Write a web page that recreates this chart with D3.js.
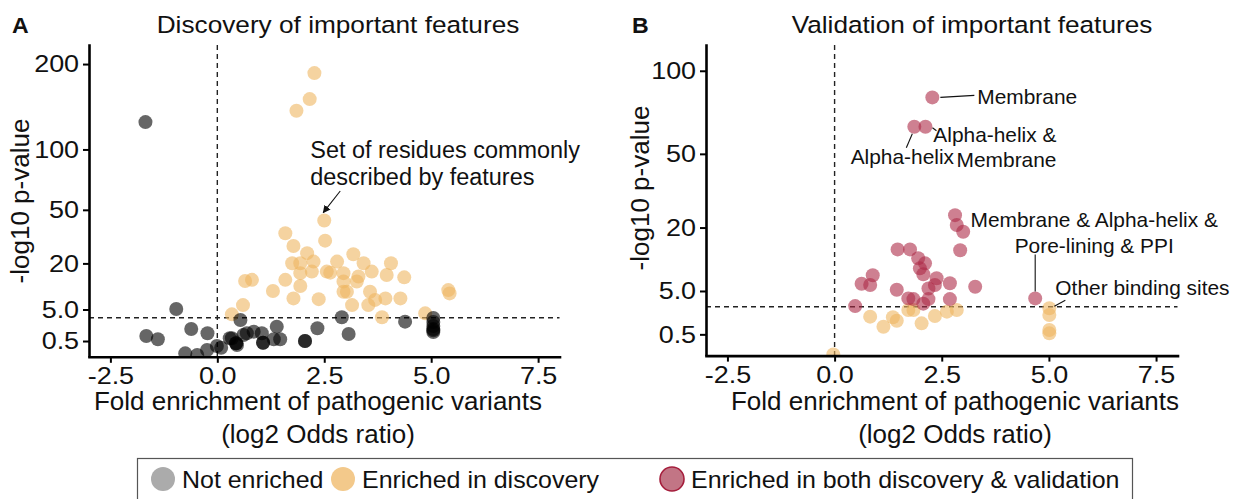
<!DOCTYPE html>
<html>
<head>
<meta charset="utf-8">
<script src="https://cdn.jsdelivr.net/npm/d3@7"></script>
<style>
  body { margin: 0; background: #fff; }
  svg { display: block; font-family: "Liberation Sans", Arial, sans-serif; }
</style>
</head>
<body>
<svg id="fig" width="1238" height="499"></svg>
<script>
// ---- data (x = log2 odds ratio, y = -log10 p) ----
const xTicks = [-2.5, 0, 2.5, 5, 7.5];
const yTicksDisc = [0.5, 5, 20, 50, 100, 200];
const yTicksVal = [0.5, 5, 20, 50, 100];
const thresholdDisc = 3.38;
const thresholdVal = 2.83;

const discEnriched = [
  [2.27,187.8],[2.16,154.8],[1.85,141],[2.50,42.9],[1.59,35.2],[1.78,28.3],[2.52,31.1],
  [2.10,24.7],[1.75,20.1],[1.94,20.1],[2.25,20.8],[2.21,16.6],[1.94,16.0],[2.56,16.6],
  [0.65,13.1],[0.81,13.5],[1.59,13.5],[1.94,11.4],[1.30,9.8],[1.78,7.7],[2.37,7.5],
  [0.60,6.0],[0.34,4.0],[3.18,24.2],[2.80,20.8],[3.42,20.1],[4.06,20.1],[2.64,16.2],
  [2.95,16.0],[3.30,14.7],[3.61,16.6],[3.96,15.3],[4.37,14.4],[3.26,12.9],[2.95,12.9],
  [2.95,9.6],[3.03,9.6],[3.57,9.6],[3.93,7.7],[4.28,7.7],[3.15,6.0],[3.53,6.0],
  [3.69,7.3],[5.40,10.1],[5.43,9.1],[3.85,3.46],[4.86,4.2]
];
const discNotEnriched = [
  [-1.68,128.3],[-0.96,5.1],[-1.66,0.91],[-1.39,0.63],[-0.61,1.67],[-0.23,1.17],
  [-0.75,0.012],[-0.47,0.001],[-0.24,0.074],[0.09,0.147],[0.29,0.71],[0.54,2.99],
  [0.44,0.36],[0.44,0.36],[0.69,1.17],[0.85,1.35],[1.04,1.17],[1.07,0.39],[1.07,0.39],
  [1.39,1.97],[1.47,0.63],[1.32,0.63],[2.05,0.50],[2.05,0.50],[2.34,1.76],[2.91,3.46],
  [3.07,1.10],[4.39,2.71],[5.05,3.33],[5.05,2.66],[5.05,2.07],[5.05,1.67],[5.05,1.31],
  [5.05,1.5],[0.34,0.71],[0.46,0.26],[0.61,1.0],[-0.01,0.22]
];
const valDiscOnly = [
  [0.83,1.77],[1.14,0.95],[1.36,1.71],[1.45,1.41],[1.72,2.45],[1.84,2.45],[2.03,1.20],
  [2.34,1.83],[2.62,2.27],[2.85,2.45],[-0.03,0.0],[5.01,2.64],[5.01,1.93],[5.01,0.74],[5.01,0.55]
];
const valBoth = [
  [2.28,82.1],[1.86,64.4],[2.12,64.4],[2.81,24.1],[2.85,20.8],[3.00,18.7],[2.93,13.5],
  [1.47,13.7],[1.76,13.7],[1.95,11.5],[2.11,10.3],[1.99,9.2],[2.07,8.0],[2.38,7.2],
  [2.34,6.0],[2.19,5.4],[2.69,6.3],[3.28,5.7],[0.89,7.8],[0.63,6.2],[0.83,6.0],
  [1.45,5.2],[1.72,3.9],[1.84,3.8],[2.07,3.2],[2.19,3.8],[2.69,3.8],[0.48,2.9],[4.68,3.9]
];
const valLabelText = [["Membrane"], ["Alpha-helix"], ["Alpha-helix &", "Membrane"],
  ["Membrane & Alpha-helix &", "Pore-lining & PPI"], ["Other binding sites"]];
const valLabelPoint = [[2.28,82.1],[1.86,64.4],[2.12,64.4],[4.68,3.9],[5.01,2.64]];
const legendLabels = ["Not enriched", "Enriched in discovery", "Enriched in both discovery & validation"];

// ---- styles ----
const C = { grey: "#000", orange: "#EEB661", red: "#AD2B48", ink: "#111" };
const R = 7;

const svg = d3.select("#fig");

function txt(g, x, y, s, size, anchor, sx, weight) {
  return g.append("text")
    .attr("transform", `translate(${x},${y}) scale(${sx || 1},1)`)
    .attr("text-anchor", anchor || "start")
    .attr("font-size", size)
    .attr("font-weight", weight || "normal")
    .attr("fill", C.ink)
    .text(s);
}

function panel(o) {
  const g = svg.append("g");
  const x = d3.scaleLinear().domain([-3, 8]).range(o.xr);
  const y = d3.scaleSqrt().domain([0, o.ymax]).range(o.yr);

  const clipId = "clip" + o.id;
  svg.append("clipPath").attr("id", clipId).append("rect")
    .attr("x", o.xr[0]).attr("y", o.yr[1]).attr("width", o.xr[1] - o.xr[0]).attr("height", o.yr[0] - o.yr[1] + 1);

  // reference lines
  g.append("line").attr("x1", x(0)).attr("x2", x(0)).attr("y1", o.yr[1]).attr("y2", o.yr[0] + 1)
    .attr("stroke", "#222").attr("stroke-width", 1.4).attr("stroke-dasharray", "5,4");
  g.append("line").attr("x1", o.xr[0]).attr("x2", o.xr[1]).attr("y1", y(o.thr)).attr("y2", y(o.thr))
    .attr("stroke", "#222").attr("stroke-width", 1.4).attr("stroke-dasharray", "5,4");

  const pts = g.append("g").attr("clip-path", `url(#${clipId})`);
  o.layers.forEach(L => {
    pts.selectAll(null).data(L.data).join("circle")
      .attr("cx", d => x(d[0])).attr("cy", d => y(d[1])).attr("r", R)
      .attr("fill", L.color).attr("fill-opacity", 0.6);
  });

  // axes
  const ax = g.append("g").attr("transform", `translate(0,${o.yr[0] + 1.2})`)
    .call(d3.axisBottom(x).tickValues(xTicks).tickFormat(d => d.toFixed(1)).tickSize(6).tickSizeOuter(0).tickPadding(4));
  const ay = g.append("g").attr("transform", `translate(${o.xr[0]},0)`)
    .call(d3.axisLeft(y).tickValues(o.yTicks).tickFormat(v => v < 10 ? v.toFixed(1) : v).tickSize(6).tickSizeOuter(0).tickPadding(3));
  [ax, ay].forEach(a => {
    a.select(".domain").attr("stroke", "#000").attr("stroke-width", 2.6).attr("stroke-linecap", "square");
    a.selectAll(".tick line").attr("stroke", "#000").attr("stroke-width", 2);
    a.selectAll(".tick text").attr("font-size", 24.5).attr("fill", C.ink)
      .attr("font-family", '"Liberation Sans", Arial, sans-serif')
      .attr("transform", "scale(1.1,1)");
  });

  // titles
  txt(g, o.letterX, 33, o.letter, 22, "start", 1.05, "bold");
  txt(g, o.titleX, 33, o.title, 24.5, "middle", 1.07);
  txt(g, o.xlabX, 410, "Fold enrichment of pathogenic variants", 25.5, "middle", 1.02);
  txt(g, o.xlabX, 443, "(log2 Odds ratio)", 25.5, "middle", 1.02);
  g.append("text").attr("transform", `translate(${o.ylabX},${o.ylabY}) rotate(-90)`)
    .attr("text-anchor", "middle").attr("font-size", 26).attr("fill", C.ink).text("-log10 p-value");

  return { g, x, y };
}

const A = panel({
  id: "A", xr: [89, 559.5], yr: [355.6, 45], ymax: 227, yTicks: yTicksDisc, thr: thresholdDisc,
  letter: "A", letterX: 12, title: "Discovery of important features", titleX: 338, xlabX: 318,
  ylabX: 29, ylabY: 201,
  layers: [{ data: discEnriched, color: C.orange }, { data: discNotEnriched, color: C.grey }]
});

const B = panel({
  id: "B", xr: [706, 1177.5], yr: [354.4, 45], ymax: 119, yTicks: yTicksVal, thr: thresholdVal,
  letter: "B", letterX: 632, title: "Validation of important features", titleX: 972, xlabX: 955,
  ylabX: 649, ylabY: 188,
  layers: [{ data: valDiscOnly, color: C.orange }, { data: valBoth, color: C.red }]
});

// ---- annotation in panel A ----
svg.append("defs").append("marker").attr("id", "arrow").attr("viewBox", "0 0 10 10")
  .attr("refX", 9).attr("refY", 5).attr("markerWidth", 7).attr("markerHeight", 7).attr("orient", "auto")
  .append("path").attr("d", "M0,0L10,5L0,10z").attr("fill", "#111");
const annPt = discEnriched[3];
txt(A.g, A.x(annPt[0]) - 14, 158, "Set of residues commonly", 23, "start", 1.02);
txt(A.g, A.x(annPt[0]) - 14, 185, "described by features", 23, "start", 1.02);
A.g.append("line").attr("x1", A.x(annPt[0]) + 16).attr("y1", 191)
  .attr("x2", A.x(annPt[0]) - 1).attr("y2", A.y(annPt[1]) - 8)
  .attr("stroke", "#111").attr("stroke-width", 1.1).attr("marker-end", "url(#arrow)");

// ---- labels in panel B (text anchor offsets relative to point, then segment) ----
const labelLayout = [
  { dx: 45, dy: 7, anchor: "start", seg: [8, 0, 42, -2] },
  { dx: -12, dy: 37, anchor: "middle", seg: [-2, 7, -8, 21] },
  { dx: 131, dy: 15, anchor: "end", seg: [7, 1, 11, 4] },
  { dx: 59, dy: -71, anchor: "middle", seg: [0, -7, 0, -44] },
  { dx: 6, dy: -13, anchor: "start", seg: [5, -2, 16, -8] }
];
valLabelText.forEach((lines, i) => {
  const p = valLabelPoint[i], L = labelLayout[i];
  const px = B.x(p[0]), py = B.y(p[1]);
  lines.forEach((s, j) => txt(B.g, px + L.dx, py + L.dy + j * 25.5, s, 20.5, L.anchor, 1.02));
  B.g.append("line").attr("x1", px + L.seg[0]).attr("y1", py + L.seg[1])
    .attr("x2", px + L.seg[2]).attr("y2", py + L.seg[3]).attr("stroke", "#111").attr("stroke-width", 1.1);
});

// ---- legend ----
const lg = svg.append("g");
lg.append("rect").attr("x", 137.5).attr("y", 458.5).attr("width", 995).attr("height", 45)
  .attr("fill", "#fff").attr("stroke", "#555").attr("stroke-width", 1.2);
const legendKeys = [
  { cx: 163, fill: "#ABABAB", stroke: "none" },
  { cx: 343, fill: "#F3C98B", stroke: "none" },
  { cx: 672, fill: "#C27585", stroke: "#A51E3C" }
];
legendLabels.forEach((s, i) => {
  const k = legendKeys[i];
  lg.append("circle").attr("cx", k.cx).attr("cy", 479).attr("r", 12)
    .attr("fill", k.fill).attr("stroke", k.stroke).attr("stroke-width", 1.6);
  txt(lg, k.cx + 19, 488, s, 24, "start", 1.04);
});
</script>
</body>
</html>
